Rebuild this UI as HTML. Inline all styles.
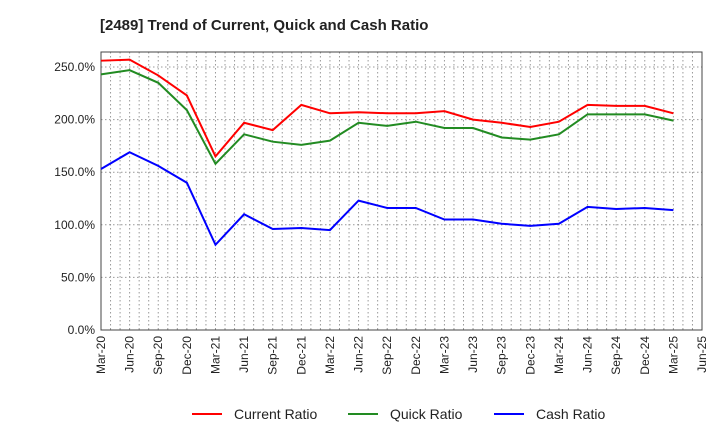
<!DOCTYPE html>
<html><head><meta charset="utf-8"><style>
body{margin:0;background:#fff;font-family:"Liberation Sans",Arial,sans-serif}
</style></head><body>
<svg id="c" width="720" height="440" xmlns="http://www.w3.org/2000/svg">
<text x="100" y="30" font-size="15" font-weight="bold" fill="#222">[2489]  Trend of Current, Quick and Cash Ratio</text>
<g id="grid"></g><g id="axes"></g><g id="series"></g>
<g>
<line x1="192" y1="414" x2="222" y2="414" stroke="#f00" stroke-width="2"/><text x="234" y="419" font-size="14" fill="#222">Current Ratio</text>
<line x1="348" y1="414" x2="378" y2="414" stroke="#228b22" stroke-width="2"/><text x="390" y="419" font-size="14" fill="#222">Quick Ratio</text>
<line x1="494" y1="414" x2="524" y2="414" stroke="#00f" stroke-width="2"/><text x="536" y="419" font-size="14" fill="#222">Cash Ratio</text>
</g>
</svg>
<script>
const xLabels=["Mar-20","Jun-20","Sep-20","Dec-20","Mar-21","Jun-21","Sep-21","Dec-21","Mar-22","Jun-22","Sep-22","Dec-22","Mar-23","Jun-23","Sep-23","Dec-23","Mar-24","Jun-24","Sep-24","Dec-24","Mar-25","Jun-25"];
const yTicks=[0,50,100,150,200,250];
const currentRatio=[256,257,242,223,165,197,190,214,206,207,206,206,208,200,197,193,198,214,213,213,206];
const quickRatio=[243,247,235,209,158,186,179,176,180,197,194,198,192,192,183,181,186,205,205,205,199];
const cashRatio=[153,169,156,140,81,110,96,97,95,123,116,116,105,105,101,99,101,117,115,116,114];
const L=101,R=702,T=52,B=330,NS='http://www.w3.org/2000/svg';
const qw=(R-L)/21;
const X=i=>L+i*qw, Y=v=>B-v*(B-67)/250;
function mk(p,t,a){const e=document.createElementNS(NS,t);for(const k in a)e.setAttribute(k,a[k]);document.getElementById(p).appendChild(e);return e;}
for(let m=1;m<63;m++){const x=L+m*qw/3;const e=mk('grid','line',{x1:x,x2:x,y1:T,y2:B,stroke:'#999','stroke-dasharray':'1.5,2.5','stroke-width':1});

}
yTicks.forEach(v=>{const y=Y(v);const g=mk('grid','line',{x1:L,x2:R,y1:y,y2:y,stroke:'#999','stroke-dasharray':'1.5,2.5'});


const t=mk('axes','text',{x:L-6,y:y+4,'font-size':12,'text-anchor':'end',fill:'#222'});t.textContent=v.toFixed(1)+'%';

});
const f=mk('axes','rect',{x:L,y:T,width:R-L,height:B-T,fill:'none',stroke:'#444'});


xLabels.forEach((s,i)=>{const x=X(i);const t=mk('axes','text',{x:x+4,y:B+6,'font-size':12,'text-anchor':'end',fill:'#222',transform:`rotate(-90 ${x+4} ${B+6})`});t.textContent=s;

});
[[currentRatio,'#f00','current-ratio-line'],[quickRatio,'#228b22','quick-ratio-line'],[cashRatio,'#00f','cash-ratio-line']].forEach(([d,c,n])=>{
const p=mk('series','polyline',{points:d.map((v,i)=>X(i)+','+Y(v)).join(' '),fill:'none',stroke:c,'stroke-width':2});

});
</script>
</body></html>
